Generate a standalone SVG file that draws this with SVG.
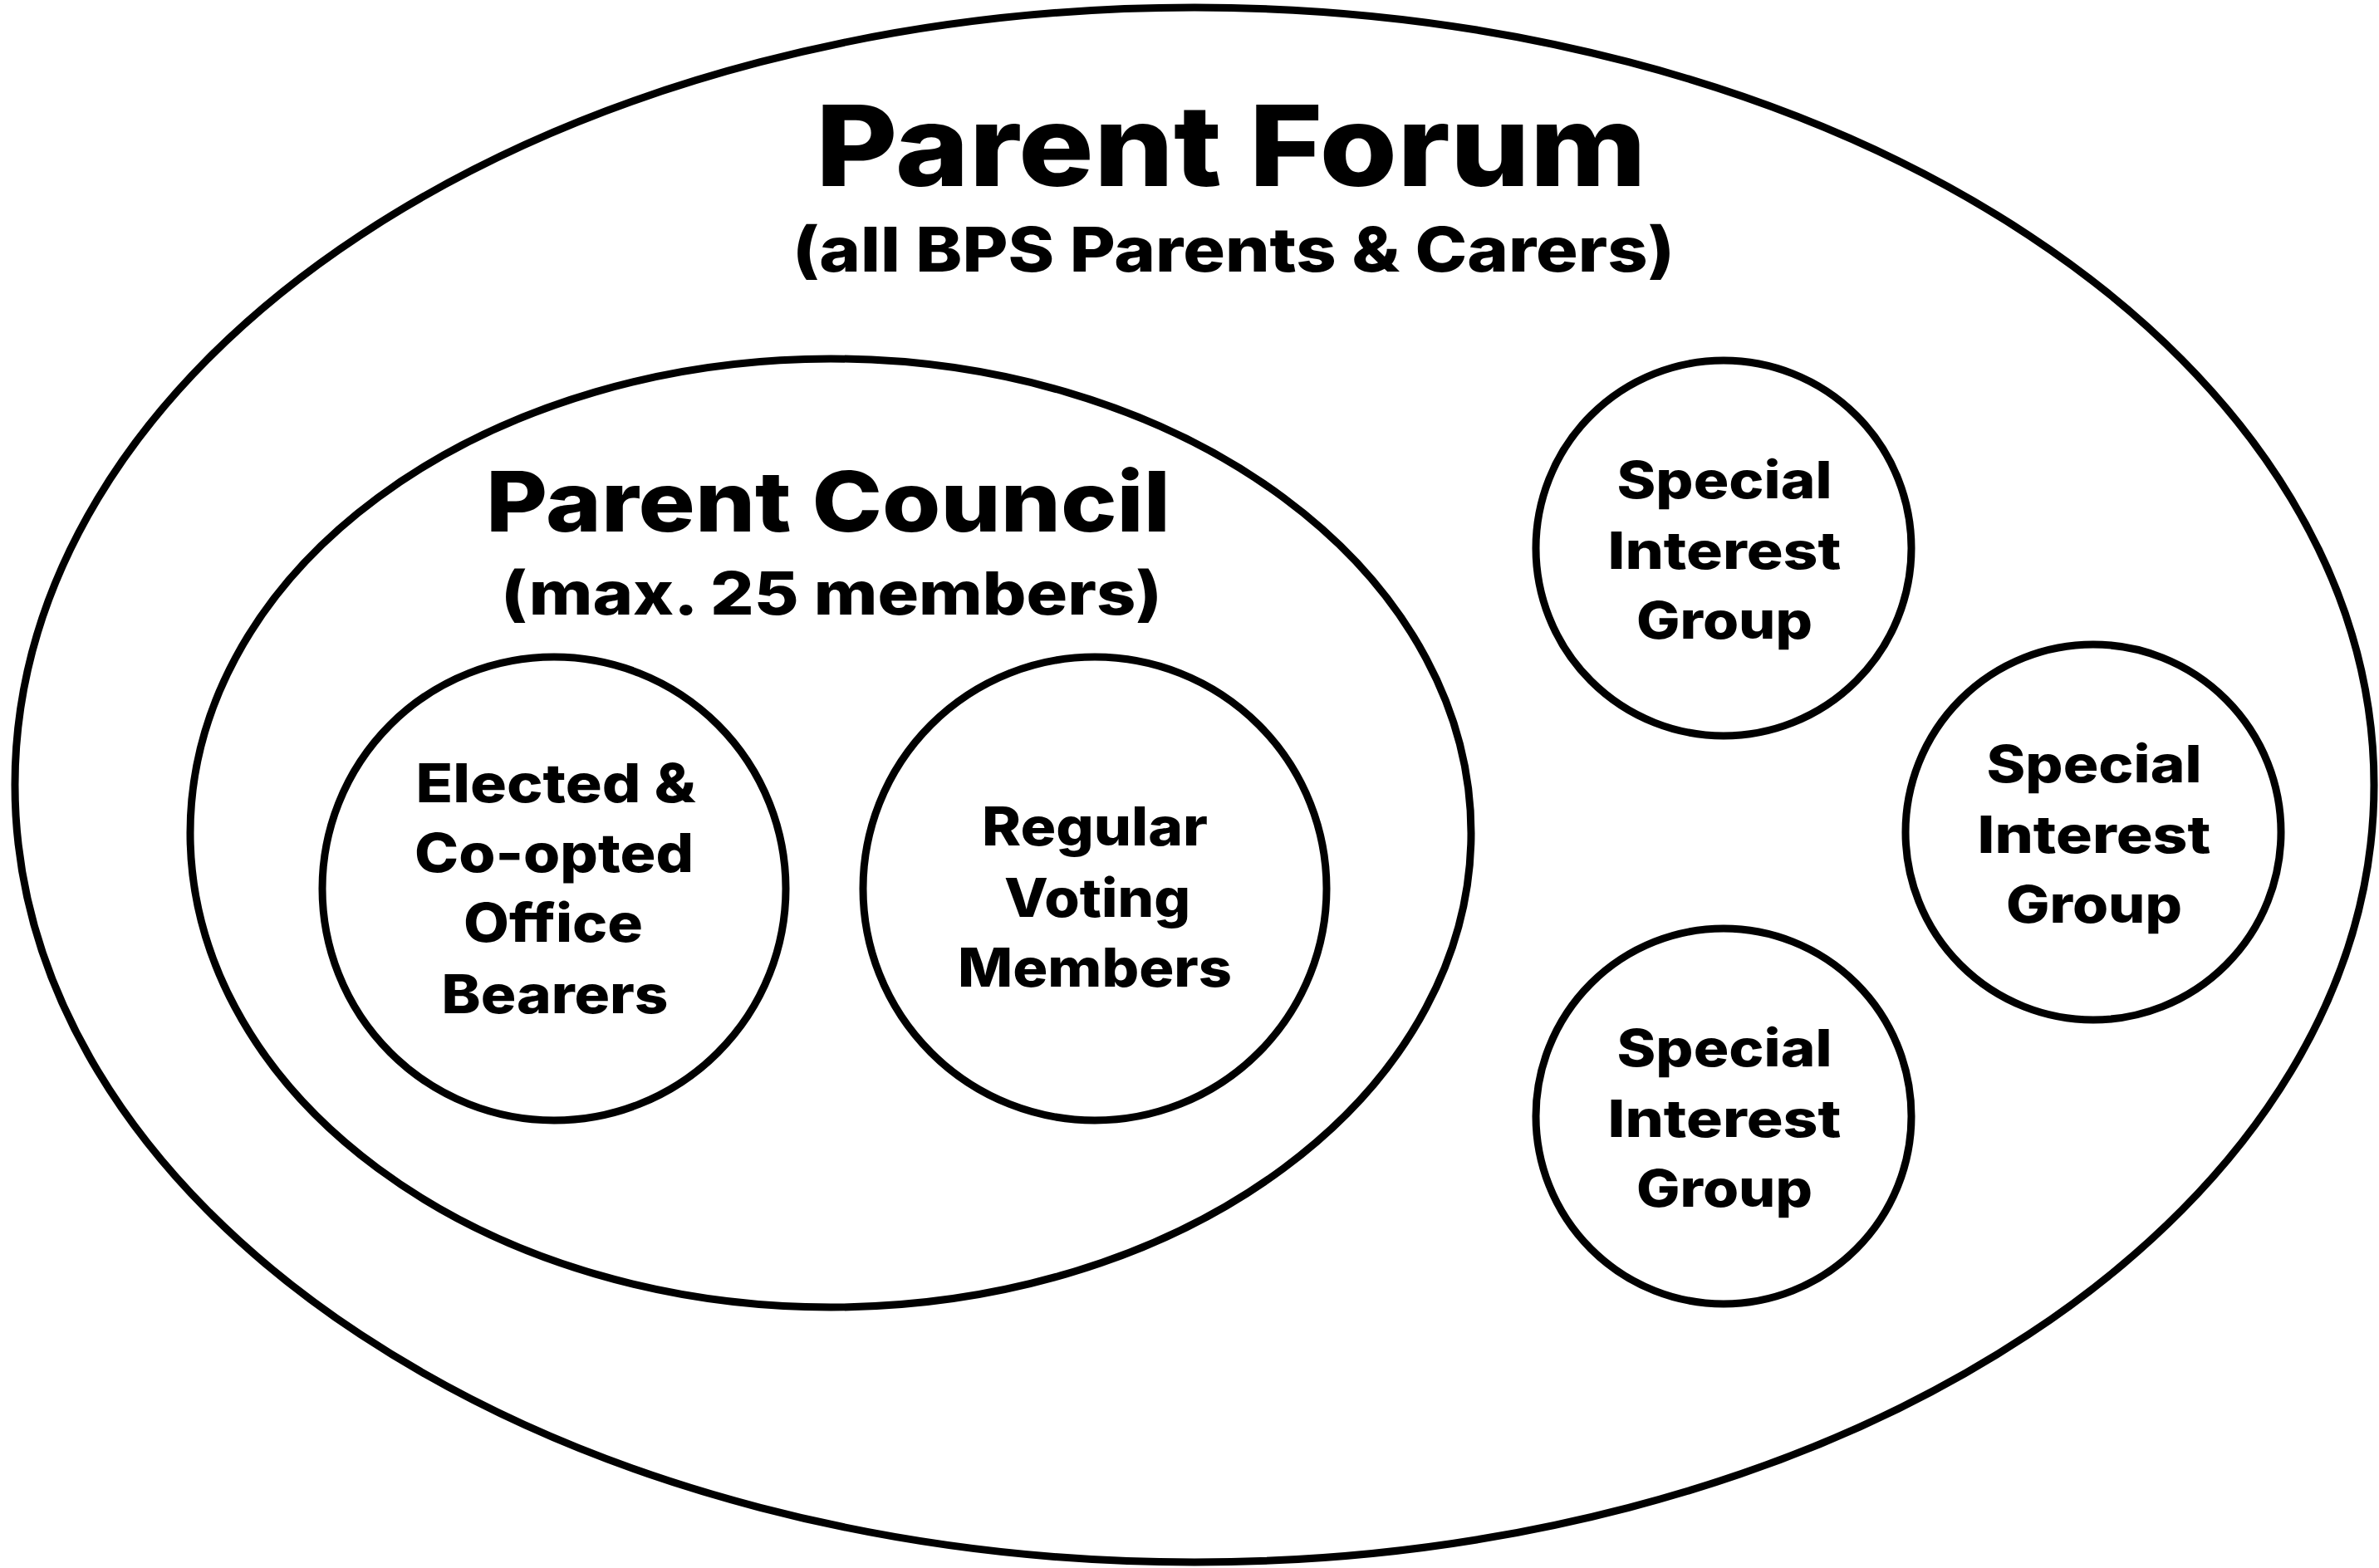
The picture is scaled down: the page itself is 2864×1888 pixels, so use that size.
<svg xmlns="http://www.w3.org/2000/svg" width="2864" height="1888" viewBox="0 0 2864 1888">
<style>
.shape{fill:none;stroke:#000;stroke-width:9}
text{font-family:Inter,"Open Sans","Liberation Sans",sans-serif;font-weight:800;fill:#000;text-anchor:middle}
.t1{font-size:135px}
.t2{font-size:74px}
.t3{font-size:100px}
.t4{font-size:72px}
.c{font-size:64px}
.s{font-size:62px}
</style>
<rect width="2864" height="1888" fill="#fff"/>
<g id="forum">
<ellipse class="shape" cx="1438" cy="945" rx="1420" ry="936"/>
<text class="t1" x="1482" y="224" textLength="1000" lengthAdjust="spacingAndGlyphs">Parent Forum</text>
<text class="t2" x="1485" y="327" textLength="1062" lengthAdjust="spacingAndGlyphs">(all BPS Parents &amp; Carers)</text>
</g>
<g id="council">
<ellipse class="shape" cx="1000" cy="1003" rx="771" ry="571"/>
<text class="t3" x="997" y="640" textLength="824" lengthAdjust="spacingAndGlyphs">Parent Council</text>
<text class="t4" x="1001" y="740" textLength="796" lengthAdjust="spacingAndGlyphs">(max. 25 members)</text>
</g>
<g id="office-bearers">
<circle class="shape" cx="667" cy="1070" r="279"/>
<text class="c" x="669" y="966" textLength="337" lengthAdjust="spacingAndGlyphs">Elected &amp;</text>
<text class="c" x="667" y="1050" textLength="336" lengthAdjust="spacingAndGlyphs">Co-opted</text>
<text class="c" x="666" y="1134" textLength="216" lengthAdjust="spacingAndGlyphs">Office</text>
<text class="c" x="668" y="1220" textLength="273" lengthAdjust="spacingAndGlyphs">Bearers</text>
</g>
<g id="voting-members">
<circle class="shape" cx="1318" cy="1070" r="279"/>
<text class="c" x="1318" y="1018" textLength="272" lengthAdjust="spacingAndGlyphs">Regular</text>
<text class="c" x="1321" y="1104" textLength="224" lengthAdjust="spacingAndGlyphs">Voting</text>
<text class="c" x="1318" y="1188" textLength="330" lengthAdjust="spacingAndGlyphs">Members</text>
</g>
<g id="sig1">
<circle class="shape" cx="2075" cy="660" r="226"/>
<text class="s" x="2076" y="600" textLength="259" lengthAdjust="spacingAndGlyphs">Special</text>
<text class="s" x="2076" y="685" textLength="281" lengthAdjust="spacingAndGlyphs">Interest</text>
<text class="s" x="2076" y="769" textLength="212" lengthAdjust="spacingAndGlyphs">Group</text>
</g>
<g id="sig2">
<circle class="shape" cx="2520" cy="1002" r="226"/>
<text class="s" x="2521" y="942" textLength="259" lengthAdjust="spacingAndGlyphs">Special</text>
<text class="s" x="2521" y="1027" textLength="281" lengthAdjust="spacingAndGlyphs">Interest</text>
<text class="s" x="2521" y="1111" textLength="212" lengthAdjust="spacingAndGlyphs">Group</text>
</g>
<g id="sig3">
<circle class="shape" cx="2075" cy="1344" r="226"/>
<text class="s" x="2076" y="1284" textLength="259" lengthAdjust="spacingAndGlyphs">Special</text>
<text class="s" x="2076" y="1369" textLength="281" lengthAdjust="spacingAndGlyphs">Interest</text>
<text class="s" x="2076" y="1453" textLength="212" lengthAdjust="spacingAndGlyphs">Group</text>
</g>
<g id="connectors"/>
</svg>
